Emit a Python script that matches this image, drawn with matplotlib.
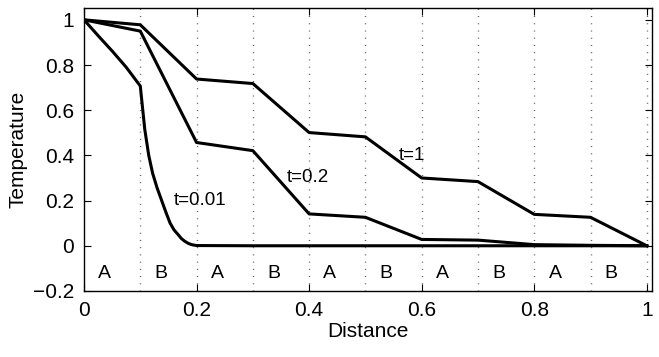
import matplotlib
matplotlib.use("Agg")
import matplotlib.pyplot as plt
import numpy as np

plt.rcParams['font.family'] = ['Liberation Sans', 'DejaVu Sans']

# values
x_grid = [0, 0.1, 0.2, 0.3, 0.4, 0.5, 0.6, 0.7, 0.8, 0.9, 1.0]
temp_t1 = [1, 0.978, 0.738, 0.718, 0.501, 0.482, 0.300, 0.284, 0.139, 0.126, 0]
temp_t02 = [1, 0.950, 0.457, 0.421, 0.141, 0.126, 0.028, 0.025, 0.005, 0.002, 0]

x_t001 = [0, 0.025, 0.05, 0.075, 0.1, 0.104, 0.108, 0.115, 0.122, 0.13, 0.138,
          0.146, 0.153, 0.160, 0.167, 0.173, 0.179, 0.185, 0.19, 0.195, 0.2,
          0.3, 0.4, 0.5, 0.6, 0.7, 0.8, 0.9, 1.0]
temp_t001 = [1, 0.93, 0.862, 0.79, 0.707, 0.61, 0.514, 0.40, 0.32, 0.255, 0.2,
             0.145, 0.1, 0.07, 0.05, 0.032, 0.02, 0.011, 0.006, 0.003, 0.001,
             0, 0, 0, 0, 0, 0, 0, 0]

curve_labels = ["t=1", "t=0.2", "t=0.01"]
label_x = [0.582, 0.398, 0.207]
label_y = [0.399, 0.30, 0.20]

layer_names = ["A", "B", "A", "B", "A", "B", "A", "B", "A", "B"]
boundaries = [0.1, 0.2, 0.3, 0.4, 0.5, 0.6, 0.7, 0.8, 0.9, 1.0]

fig = plt.figure(figsize=(6.59, 3.57), dpi=100)
ax = fig.add_axes([0.1275, 0.185, 0.8625, 0.793])

for b in boundaries:
    ax.axvline(b, color='0.35', lw=1.0, dashes=(0.7, 4.5), zorder=1)

ax.plot(x_grid, temp_t1, color='black', lw=2.2, zorder=3)
ax.plot(x_grid, temp_t02, color='black', lw=2.2, zorder=3)
ax.plot(x_t001, temp_t001, color='black', lw=2.2, zorder=3)

for txt, tx, ty in zip(curve_labels, label_x, label_y):
    ax.text(tx, ty, txt, fontsize=13.5, ha='center', va='center')

for i, name in enumerate(layer_names):
    ax.text(0.037 + 0.1 * i, -0.123, name, fontsize=14, ha='center', va='center')

ax.set_xlim(0, 1.01)
ax.set_ylim(-0.2, 1.053)
ax.set_xticks(np.arange(0, 1.01, 0.2))
ax.set_xticklabels(['0', '0.2', '0.4', '0.6', '0.8', '1'])
ax.set_yticks([-0.2, 0, 0.2, 0.4, 0.6, 0.8, 1.0])
ax.set_yticklabels(['\u22120.2', '0', '0.2', '0.4', '0.6', '0.8', '1'])
ax.tick_params(direction='in', length=5, width=0.8, labelsize=15,
               top=True, right=True, pad=7)
for s in ax.spines.values():
    s.set_linewidth(1.0)

ax.set_xlabel("Distance", fontsize=15, labelpad=2)
ax.set_ylabel("Temperature", fontsize=15, labelpad=4)

fig.savefig("out.png", dpi=100)
